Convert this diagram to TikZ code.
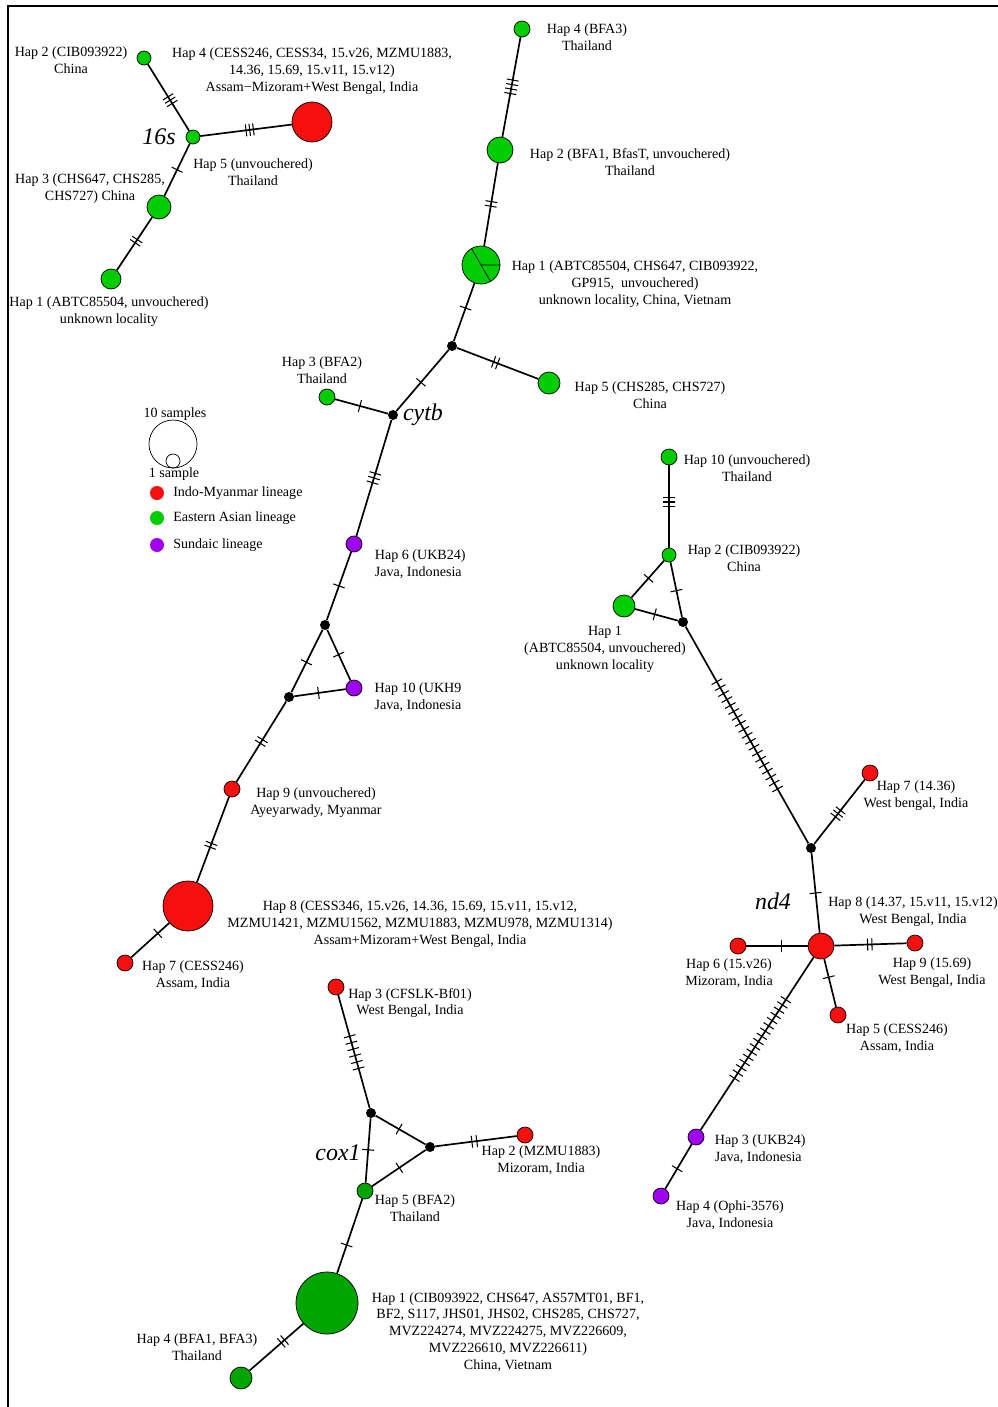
\documentclass[tikz,border=0pt]{standalone}
\usepackage{fontspec}
\setmainfont{Liberation Serif}
\usepackage{xcolor}
\usepackage{tikz}
\usetikzlibrary{positioning}

\definecolor{imred}{RGB}{245,15,15}
\definecolor{eagreen}{RGB}{0,205,0}
\definecolor{coxgreen}{RGB}{0,165,0}
\definecolor{supurple}{RGB}{160,0,240}

\begin{document}
\begin{tikzpicture}[x=0.025cm, y=-0.025cm,
    hap/.style={circle, draw, line width=0.5pt, inner sep=0pt, minimum size=#1},
    im/.style={hap=#1, fill=imred},
    ea/.style={hap=#1, fill=eagreen},
    eb/.style={hap=#1, fill=coxgreen},
    su/.style={hap=#1, fill=supurple},
    med/.style={circle, fill=black, inner sep=0pt, minimum size=0.25cm},
    link/.style={line width=1.2pt},
    mut/.style={sloped, draw, line width=0.75pt, inner sep=0pt, minimum width=0pt, minimum height=0.3cm},
    lab/.style={align=center, font=\fontsize{10}{12}\selectfont},
    gene/.style={font=\fontsize{17}{20}\selectfont\itshape}]

    \useasboundingbox (0,0) rectangle (998,1407);
    \draw[line width=1.4pt] (8,1407) -- (8,6) -- (998,6);

    % =================================================================
    % 1. 16s
    % =================================================================
    \node[ea=0.35cm] (s2) at (144,58) {};
    \node[ea=0.35cm] (s5) at (193,137) {};
    \node[im=1cm] (s4) at (312,122) {};
    \node[ea=0.6cm] (s3) at (159,207) {};
    \node[ea=0.5cm] (s1) at (111,279) {};

    \draw[link] (s2) -- (s5) foreach \p in {0.49,0.54,0.59} {node[mut, pos=\p] {}};
    \draw[link] (s5) -- (s4) foreach \p in {0.5,0.54,0.58} {node[mut, pos=\p] {}};
    \draw[link] (s5) -- (s3) node[mut, pos=0.5] {};
    \draw[link] (s3) -- (s1) foreach \p in {0.42,0.48} {node[mut, pos=\p] {}};

    \node[lab] (s2l) at (71,60) {Hap 2 (CIB093922)\\China};
    \node[lab] (s4l) at (312,71) {Hap 4 (CESS246, CESS34, 15.v26, MZMU1883,\\14.36, 15.69, 15.v11, 15.v12)\\Assam−Mizoram+West Bengal, India};
    \node[gene] (s16) at (159,137) {16s};
    \node[lab] (s5l) at (253,172) {Hap 5 (unvouchered)\\Thailand};
    \node[lab] (s3l) at (90,189) {Hap 3 (CHS647, CHS285,\\CHS727) China};
    \node[lab] (s1l) at (109,312) {Hap 1 (ABTC85504, unvouchered)\\unknown locality};

    % =================================================================
    % 2. cytb
    % =================================================================
    \node[ea=0.4cm] (c4) at (522,29) {};
    \node[ea=0.65cm] (c2) at (500,150) {};
    \node[ea=0.95cm] (c1) at (481,265) {};
    \draw[line width=0.5pt] (c1.120) -- (c1.-60) (c1.center) -- (c1.0);
    \node[med] (cm1) at (452,346) {};
    \node[ea=0.55cm] (c5) at (549,383) {};
    \node[med] (cm0) at (393,415) {};
    \node[ea=0.4cm] (c3) at (327,397) {};
    \node[su=0.4cm] (c6) at (354,544) {};
    \node[med] (cm2) at (325,625) {};
    \node[med] (cm3) at (289,697) {};
    \node[su=0.4cm] (c10) at (354,688) {};
    \node[im=0.4cm] (c9) at (232,789) {};
    \node[im=1.25cm] (c8) at (188,906) {};
    \node[im=0.4cm] (c7) at (125,963) {};

    \draw[link] (c4) -- (c2) foreach \p in {0.43,0.475,0.52,0.565} {node[mut, pos=\p] {}};
    \draw[link] (c2) -- (c1) foreach \p in {0.465,0.52} {node[mut, pos=\p] {}};
    \draw[link] (c1) -- (cm1) node[mut, pos=0.43] {};
    \draw[link] (cm1) -- (c5) foreach \p in {0.45,0.5} {node[mut, pos=\p] {}};
    \draw[link] (cm1) -- (cm0) node[mut, pos=0.53] {};
    \draw[link] (c3) -- (cm0) node[mut, pos=0.47] {};
    \draw[link] (cm0) -- (c6) foreach \p in {0.46,0.5,0.54} {node[mut, pos=\p] {}};
    \draw[link] (c6) -- (cm2) node[mut, pos=0.5] {};
    \draw[link] (cm2) -- (cm3) node[mut, pos=0.52] {};
    \draw[link] (cm2) -- (c10) node[mut, pos=0.49] {};
    \draw[link] (cm3) -- (c10) node[mut, pos=0.47] {};
    \draw[link] (cm3) -- (c9) foreach \p in {0.475,0.52} {node[mut, pos=\p] {}};
    \draw[link] (c9) -- (c8) foreach \p in {0.545,0.59} {node[mut, pos=\p] {}};
    \draw[link] (c8) -- (c7) node[mut, pos=0.3] {};

    \node[lab] (c4l) at (587,37) {Hap 4 (BFA3)\\Thailand};
    \node[lab] (c2l) at (630,162) {Hap 2 (BFA1, BfasT, unvouchered)\\Thailand};
    \node[lab] (c1l) at (635,284) {Hap 1 (ABTC85504, CHS647, CIB093922,\\GP915,\ \ unvouchered)\\unknown locality, China, Vietnam};
    \node[lab] (c5l) at (650,395) {Hap 5 (CHS285, CHS727)\\China};
    \node[lab] (c3l) at (322,370) {Hap 3 (BFA2)\\Thailand};
    \node[gene] (cyt) at (423,415) {cytb};
    \node[lab, align=left, anchor=west] (c6l) at (370,564) {Hap 6 (UKB24)\\Java, Indonesia};
    \node[lab] (c10l) at (418,697) {Hap 10 (UKH9\\Java, Indonesia};
    \node[lab] (c9l) at (316,803) {Hap 9 (unvouchered)\\Ayeyarwady, Myanmar};
    \node[lab] (c8l) at (420,924) {Hap 8 (CESS346, 15.v26, 14.36, 15.69, 15.v11, 15.v12,\\MZMU1421, MZMU1562, MZMU1883, MZMU978, MZMU1314)\\Assam+Mizoram+West Bengal, India};
    \node[lab] (c7l) at (193,975) {Hap 7 (CESS246)\\Assam, India};

    % legend
    \node[hap=1.2cm] (big) at (173,444) {};
    \node[hap=0.35cm] (small) at (173,461) {};
    \node[lab] (bigl) at (175,414) {10 samples};
    \node[lab] (smalll) at (174,474) {1 sample};
    \node[circle, fill=imred, inner sep=0pt, minimum size=0.35cm] (kim) at (157,493) {};
    \node[circle, fill=eagreen, inner sep=0pt, minimum size=0.35cm] (kea) at (157,518) {};
    \node[circle, fill=supurple, inner sep=0pt, minimum size=0.35cm] (ksu) at (157,545) {};
    \node[lab, right=0.1cm of kim] {Indo-Myanmar lineage};
    \node[lab, right=0.1cm of kea] {Eastern Asian lineage};
    \node[lab, right=0.1cm of ksu] {Sundaic lineage};

    % =================================================================
    % 3. nd4
    % =================================================================
    \node[ea=0.4cm] (n10) at (669,457) {};
    \node[ea=0.35cm] (n2) at (669,555) {};
    \node[ea=0.55cm] (n1) at (624,606) {};
    \node[med] (nm1) at (683,622) {};
    \node[med] (nm2) at (811,848) {};
    \node[im=0.4cm] (n7) at (870,773) {};
    \node[im=0.65cm] (n8) at (821,946) {};
    \node[im=0.4cm] (n6) at (738,946) {};
    \node[im=0.4cm] (n9) at (915,943) {};
    \node[im=0.4cm] (n5) at (838,1015) {};
    \node[su=0.4cm] (n3) at (696,1137) {};
    \node[su=0.4cm] (n4) at (661,1196) {};

    \draw[link] (n10) -- (n2) foreach \p in {0.39,0.445,0.5} {node[mut, pos=\p] {}};
    \draw[link] (n2) -- (n1) node[mut, pos=0.48] {};
    \draw[link] (n2) -- (nm1) node[mut, pos=0.52] {};
    \draw[link] (n1) -- (nm1) node[mut, pos=0.46] {};
    \draw[link] (nm1) -- (nm2) foreach \p in {0.254,0.2815,...,0.75} {node[mut, pos=\p] {}};
    \draw[link] (nm2) -- (n7) foreach \p in {0.42,0.47,0.52} {node[mut, pos=\p] {}};
    \draw[link] (nm2) -- (n8) node[mut, pos=0.5] {};
    \draw[link] (n6) -- (n8) node[mut, pos=0.58] {};
    \draw[link] (n8) -- (n9) foreach \p in {0.46,0.52} {node[mut, pos=\p] {}};
    \draw[link] (n8) -- (n5) node[mut, pos=0.38] {};
    \draw[link] (n8) -- (n3) foreach \p in {0.246,0.2763,...,0.71} {node[mut, pos=\p] {}};
    \draw[link] (n3) -- (n4) node[mut, pos=0.55] {};

    \node[lab] (n10l) at (747,468) {Hap 10 (unvouchered)\\Thailand};
    \node[lab] (n2l) at (744,558) {Hap 2 (CIB093922)\\China};
    \node[lab] (n1l) at (605,649) {Hap 1\\(ABTC85504, unvouchered)\\unknown locality};
    \node[lab] (n7l) at (916,796) {Hap 7 (14.36)\\West bengal, India};
    \node[gene] (nd) at (773,901) {nd4};
    \node[lab] (n8l) at (913,912) {Hap 8 (14.37, 15.v11, 15.v12)\\West Bengal, India};
    \node[lab] (n6l) at (729,973) {Hap 6 (15.v26)\\Mizoram, India};
    \node[lab] (n9l) at (932,973) {Hap 9 (15.69)\\West Bengal, India};
    \node[lab] (n5l) at (897,1038) {Hap 5 (CESS246)\\Assam, India};
    \node[lab, align=left, anchor=west] (n3l) at (710,1149) {Hap 3 (UKB24)\\Java, Indonesia};
    \node[lab] (n4l) at (730,1215) {Hap 4 (Ophi-3576)\\Java, Indonesia};

    % =================================================================
    % 4. cox1
    % =================================================================
    \node[im=0.4cm] (x3) at (336,987) {};
    \node[med] (xm1) at (371,1113) {};
    \node[med] (xm2) at (430,1147) {};
    \node[im=0.4cm] (x2) at (525,1135) {};
    \node[eb=0.4cm] (x5) at (365,1191) {};
    \node[eb=1.55cm] (x1) at (327,1303) {};
    \node[eb=0.55cm] (x4) at (241,1378) {};

    \draw[link] (x3) -- (xm1) foreach \p in {0.365,0.422,...,0.66} {node[mut, pos=\p] {}};
    \draw[link] (xm1) -- (xm2) node[mut, pos=0.47] {};
    \draw[link] (xm1) -- (x5) node[mut, pos=0.49] {};
    \draw[link] (xm2) -- (x5) node[mut, pos=0.49] {};
    \draw[link] (xm2) -- (x2) foreach \p in {0.45,0.51} {node[mut, pos=\p] {}};
    \draw[link] (x5) -- (x1) node[mut, pos=0.62] {};
    \draw[link] (x1) -- (x4) foreach \p in {0.35,0.41} {node[mut, pos=\p] {}};

    \node[lab] (x3l) at (410,1003) {Hap 3 (CFSLK-Bf01)\\West Bengal, India};
    \node[lab] (x2l) at (541,1160) {Hap 2 (MZMU1883)\\Mizoram, India};
    \node[lab] (x5l) at (415,1208) {Hap 5 (BFA2)\\Thailand};
    \node[gene] (cox) at (338,1153) {cox1};
    \node[lab] (x1l) at (508,1332) {Hap 1 (CIB093922, CHS647, AS57MT01, BF1,\\BF2, S117, JHS01, JHS02, CHS285, CHS727,\\MVZ224274, MVZ224275, MVZ226609,\\MVZ226610, MVZ226611)\\China, Vietnam};
    \node[lab] (x4l) at (197,1347) {Hap 4 (BFA1, BFA3)\\Thailand};

\end{tikzpicture}
\end{document}
